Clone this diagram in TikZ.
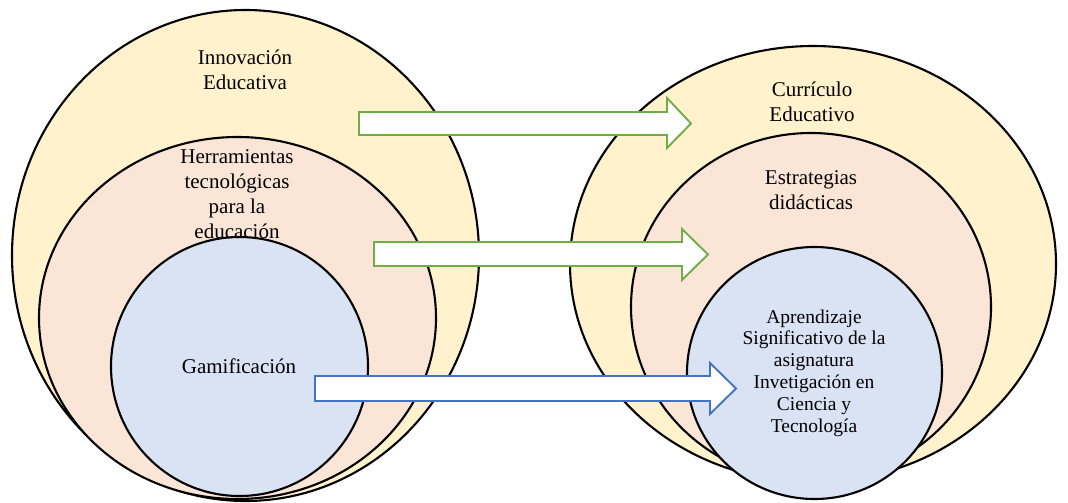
\documentclass[tikz,border=0pt]{standalone}
\usepackage{fontspec}
\setmainfont{Liberation Serif}
\usetikzlibrary{shapes.geometric}
\definecolor{ylw}{HTML}{FFF2CC}
\definecolor{pnk}{HTML}{FBE5D6}
\definecolor{blu}{HTML}{DAE3F3}
\definecolor{grn}{HTML}{70AD47}
\definecolor{bluline}{HTML}{4472C4}
\tikzset{
  ring/.style={ellipse, draw=black, line width=2.1pt, inner sep=0pt},
  lbl/.style={align=center, font=\fontsize{21}{25}\selectfont, inner sep=0pt},
  slbl/.style={align=center, font=\fontsize{19.5}{21.8}\selectfont, inner sep=0pt},
  garrow/.style={draw=grn, fill=white, line width=1.9pt, line join=miter},
  barrow/.style={draw=bluline, fill=white, line width=1.9pt, line join=miter}
}
\begin{document}
\begin{tikzpicture}[x=1pt,y=-1pt]
\useasboundingbox (0,0) rectangle (1068,503);
% left group
\node[ring, fill=ylw, minimum width=467pt, minimum height=491pt] (lout) at (245.5,255.5) {};
\node[ring, fill=pnk, minimum width=397pt, minimum height=362pt] (lmid) at (237.5,318) {};
\node[ring, fill=blu, minimum width=257pt, minimum height=259pt] (lin) at (239.5,366.5) {};
% right group
\node[ring, fill=ylw, minimum width=486pt, minimum height=436pt] (rout) at (813,264) {};
\node[ring, fill=pnk, minimum width=360pt, minimum height=348pt] (rmid) at (811,307) {};
\node[ring, fill=blu, minimum width=255pt, minimum height=252pt] (rin) at (814.5,373) {};
% labels
\node[lbl] (t1) at (245,70) {Innovación\\Educativa};
\node[lbl] (t2) at (237,194) {Herramientas\\tecnológicas\\para la\\educación};
\node[lbl] (t3) at (239,366) {Gamificación};
\node[lbl] (t4) at (812,102) {Currículo\\Educativo};
\node[lbl] (t5) at (811,190) {Estrategias\\didácticas};
\node[slbl] (t6) at (814,373) {Aprendizaje\\Significativo de la\\asignatura\\Invetigación en\\Ciencia y\\Tecnología};
% block arrows
\draw[garrow] (359,112) -- (667,112) -- (667,98) -- (691,123.5) -- (667,148) -- (667,135) -- (359,135) -- cycle;
\draw[garrow] (374,242) -- (682,242) -- (682,229) -- (708,254.5) -- (682,280) -- (682,266) -- (374,266) -- cycle;
\draw[barrow] (315,376) -- (710,376) -- (710,363) -- (736,388.5) -- (710,414) -- (710,401) -- (315,401) -- cycle;
\end{tikzpicture}
\end{document}
